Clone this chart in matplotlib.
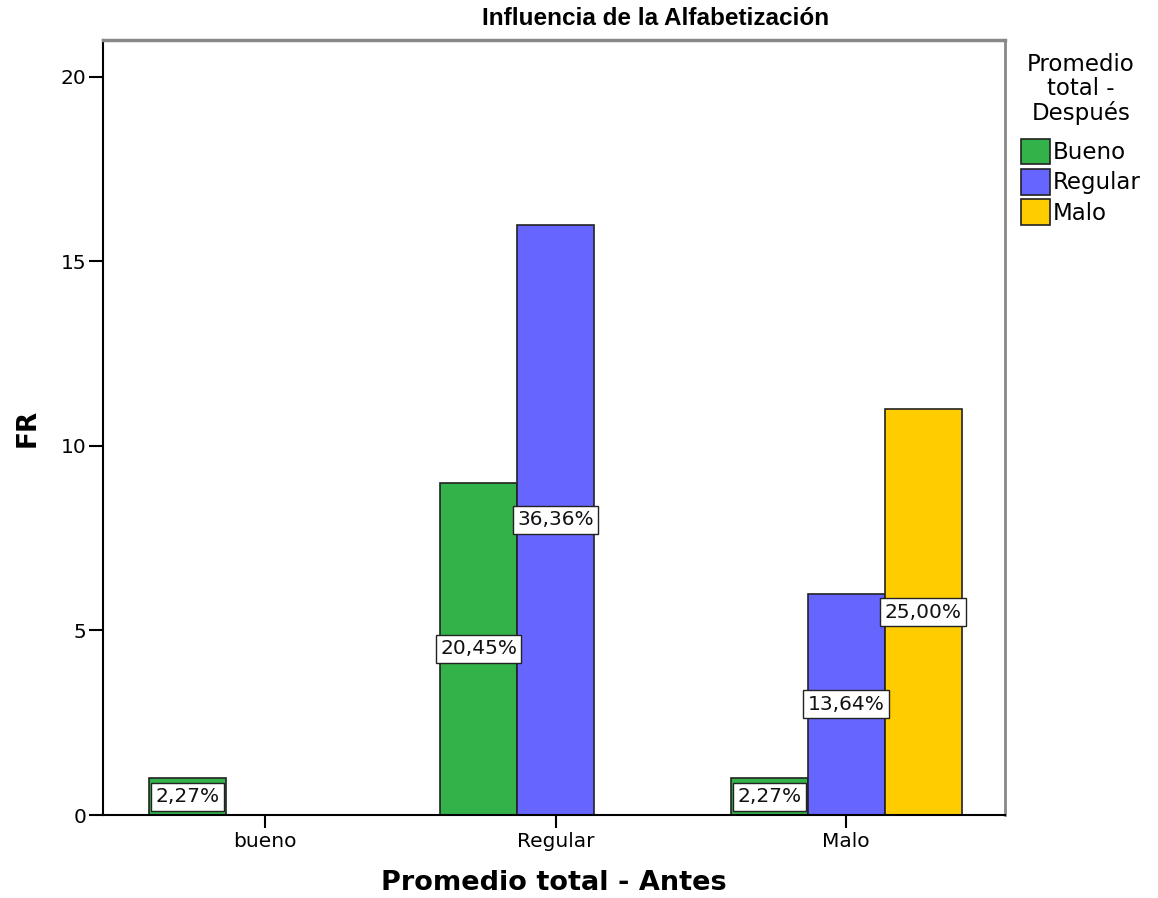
import matplotlib.pyplot as plt
import numpy as np

# Datos: frecuencia por categoría "Antes" y grupo "Después"
categorias = ['bueno', 'Regular', 'Malo']
grupos = ['Bueno', 'Regular', 'Malo']
frec_bueno = [1, 9, 1]
frec_regular = [0, 16, 6]
frec_malo = [0, 0, 11]
total = 44

colores = ['#33b24a', '#6666ff', '#ffcc00']

fig = plt.figure(figsize=(11.58, 8.98), dpi=100)
ax = fig.add_axes([0.0889, 0.0924, 0.779, 0.8631])

x = np.arange(len(categorias))
ancho = 0.265
series = [frec_bueno, frec_regular, frec_malo]
offsets = [-ancho, 0, ancho]

for serie, off, color, nombre in zip(series, offsets, colores, grupos):
    ax.bar(x + off, serie, width=ancho, color=color, edgecolor='#222222',
           linewidth=1.2, label=nombre)
    # etiqueta de porcentaje en la mitad de cada barra
    for xi, v in zip(x + off, serie):
        if v == 0:
            continue
        pct = v / total * 100
        txt = f'{pct:.2f}%'.replace('.', ',')
        ax.text(xi, v / 2, txt, ha='center', va='center', fontsize=14.5,
                color='#111111',
                bbox=dict(boxstyle='square,pad=0.22', facecolor='white',
                          edgecolor='#222222', linewidth=1))

ax.set_xlim(-0.557, 2.546)
ax.set_ylim(0, 21)
ax.set_xticks(x)
ax.set_xticklabels(categorias, fontsize=14.5)
ax.set_yticks([0, 5, 10, 15, 20])
ax.tick_params(axis='y', labelsize=14.5, length=10, width=1.5, pad=2)
ax.tick_params(axis='x', length=9, width=1.5, pad=3)

ax.spines['left'].set_linewidth(1.5)
ax.spines['bottom'].set_linewidth(1.5)
ax.spines['top'].set_color('#888888')
ax.spines['top'].set_linewidth(2.5)
ax.spines['right'].set_color('#888888')
ax.spines['right'].set_linewidth(2)

ax.set_ylabel('FR', fontsize=19, fontweight='bold', labelpad=14)
ax.set_xlabel('Promedio total - Antes', fontsize=19.5, fontweight='bold', labelpad=14)
fig.text(0.566, 0.979, 'Influencia de la Alfabetización', ha='center', va='center',
         fontsize=17.5, fontweight='bold', family=['Liberation Sans', 'DejaVu Sans'])

leg = ax.legend(title='Promedio\ntotal -\nDespués', loc='upper left',
                bbox_to_anchor=(1.0, 1.004), frameon=False, fontsize=16.5,
                title_fontsize=16.5, handlelength=1.25, handleheight=1.35,
                handletextpad=0.15, labelspacing=0.2, borderaxespad=0.3)
leg.get_title().set_multialignment('center')
leg.get_title().set_linespacing(1.05)
leg._legend_box.sep = 10

fig.savefig('out.png', dpi=100)
